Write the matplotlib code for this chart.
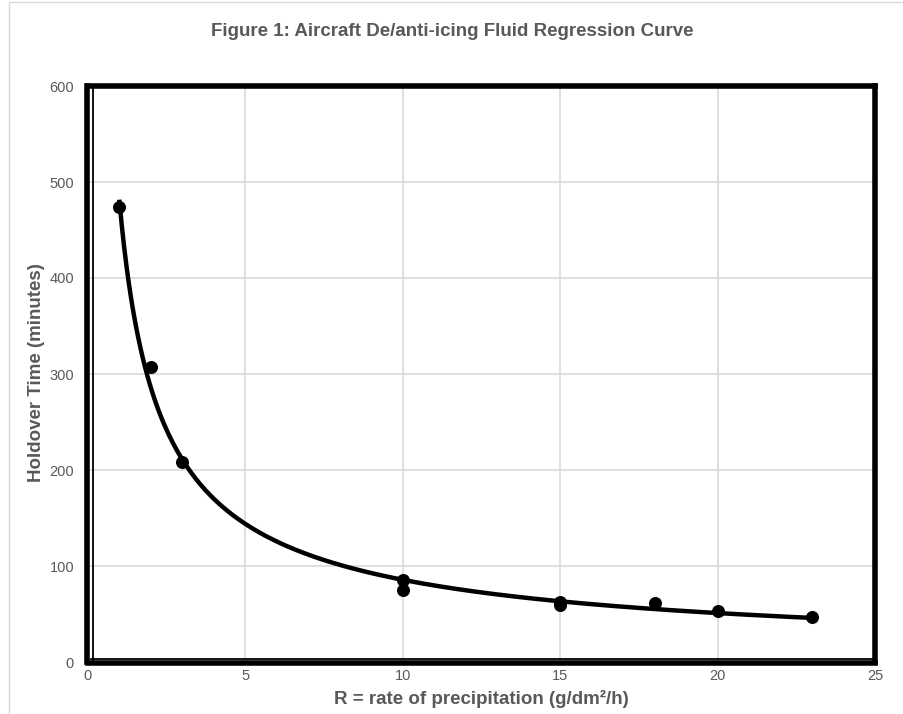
import numpy as np
import matplotlib
matplotlib.use("Agg")
import matplotlib.pyplot as plt
from matplotlib.patches import Rectangle
from matplotlib.lines import Line2D

# measured holdover times
rate = [1, 2, 3, 10, 10, 15, 15, 18, 20, 23]
holdover = [474, 307, 208, 85, 75, 63, 59, 61, 53, 47]

x_ticks = [0, 5, 10, 15, 20, 25]
y_ticks = [0, 100, 200, 300, 400, 500, 600]

GRAY = '#595959'


def power_fit(x, y):
    # Excel style power trendline: least squares in log-log space
    b, ln_a = np.polyfit(np.log(x), np.log(y), 1)
    return np.exp(ln_a), b


def plot_regression():
    fig = plt.figure(figsize=(9.04, 7.14), dpi=100)
    plt.rcParams['font.family'] = ['Liberation Sans', 'DejaVu Sans']

    # chart area outline
    fig.patches.append(Rectangle((9 / 904, -0.05), 1.1, 1 - 2 / 714 + 0.05,
                                 transform=fig.transFigure, fill=False,
                                 edgecolor='#d9d9d9', linewidth=1))

    ax = fig.add_axes([88 / 904, 52 / 714, (875 - 88) / 904, (662 - 86) / 714])

    a, b = power_fit(rate, holdover)
    xs = np.linspace(min(rate), max(rate), 300)
    ax.plot(xs, a * xs ** b, color='black', linewidth=3.2, zorder=3)
    ax.scatter(rate, holdover, s=70, color='black', zorder=4)

    ax.set_xlim(0, 25)
    ax.set_ylim(0, 600)
    ax.set_xticks(x_ticks)
    ax.set_yticks(y_ticks)
    ax.grid(True, color='#d9d9d9', linewidth=1.2)
    ax.set_axisbelow(True)
    ax.tick_params(length=0, labelsize=10.5, colors=GRAY, pad=9)
    ax.tick_params(axis='x', pad=4)

    for side in ['top', 'right', 'left', 'bottom']:
        ax.spines[side].set_linewidth(4)
        ax.spines[side].set_color('black')
    for side in ['left', 'bottom']:
        ax.spines[side].set_position(('outward', 1))
    # thin inner line on the left and bottom axis
    ax.add_line(Line2D([0.006, 0.006], [0.004, 1], transform=ax.transAxes,
                       color='black', linewidth=1.3, clip_on=False, zorder=5))
    ax.add_line(Line2D([0.004, 1], [0.006, 0.006], transform=ax.transAxes,
                       color='black', linewidth=1.3, clip_on=False, zorder=5))

    fig.text(0.5, 1 - 31 / 714, 'Figure 1: Aircraft De/anti-icing Fluid Regression Curve',
             ha='center', va='center', fontsize=13.5, fontweight='bold', color=GRAY)
    fig.text(481 / 904, 1 - 699 / 714, 'R = rate of precipitation (g/dm²/h)',
             ha='center', va='center', fontsize=13.5, fontweight='bold', color=GRAY)
    fig.text(37 / 904, 1 - 373 / 714, 'Holdover Time (minutes)', rotation=90,
             ha='center', va='center', fontsize=13.5, fontweight='bold', color=GRAY)

    fig.savefig('out.png', dpi=100)
    plt.close(fig)


if __name__ == "__main__":
    plot_regression()
